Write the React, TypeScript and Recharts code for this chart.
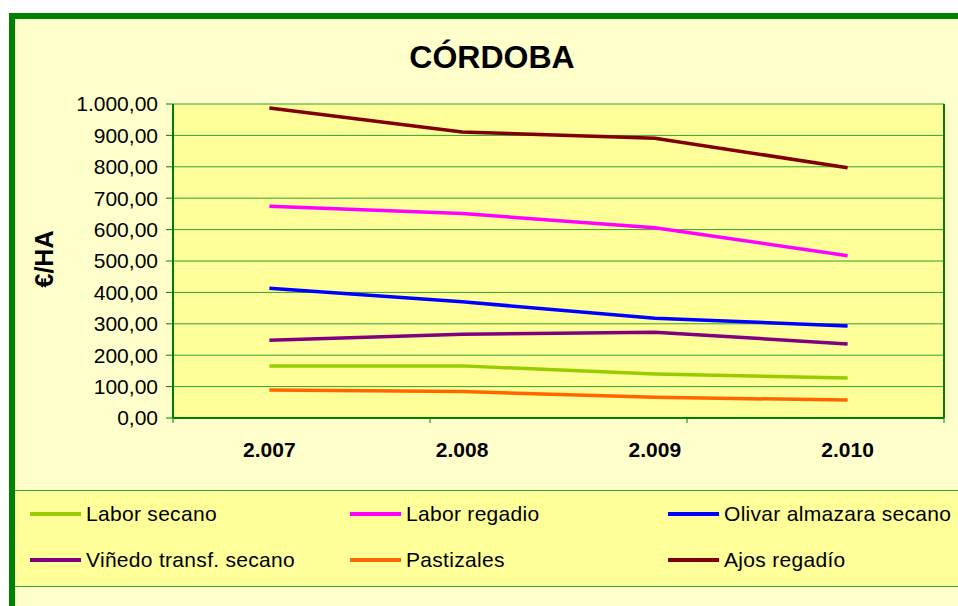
import React from 'react';
import { LineChart, Line, XAxis, YAxis, CartesianGrid } from 'recharts';

const years = ['2.007', '2.008', '2.009', '2.010'];
const laborSecano = [166, 166, 140, 127];
const laborRegadio = [674, 651, 606, 517];
const olivar = [413, 370, 318, 293];
const vinedo = [248, 267, 273, 236];
const pastizales = [89, 84, 66, 57];
const ajos = [987, 911, 891, 797];
const yTicks = [0, 100, 200, 300, 400, 500, 600, 700, 800, 900, 1000];
const edgeTicks = [0, 1, 2, 3, 4];

const SERIES = [
  { key: 'laborSecano', name: 'Labor secano', color: '#99CC00', values: laborSecano },
  { key: 'laborRegadio', name: 'Labor regadio', color: '#FF00FF', values: laborRegadio },
  { key: 'olivar', name: 'Olivar almazara secano', color: '#0000FF', values: olivar },
  { key: 'vinedo', name: 'Viñedo transf. secano', color: '#800080', values: vinedo },
  { key: 'pastizales', name: 'Pastizales', color: '#FF6600', values: pastizales },
  { key: 'ajos', name: 'Ajos regadío', color: '#800000', values: ajos },
];

const data = years.map((year, i) => {
  const row: Record<string, string | number> = { year };
  SERIES.forEach(s => { row[s.key] = s.values[i]; });
  return row;
});

const FONT = '"Liberation Sans", Arial, sans-serif';
const GREEN = '#008000';
const GRID = '#33A033';

// ids sort so the tick-mark axis sits next to the plot
const EDGE_X = 'a-edge';
const CAT_X = 'b-cat';
const TOP_X = 'c-top';

// 1000 -> "1.000,00"
const fmt = (v: number) => {
  const [int, dec] = v.toFixed(2).split('.');
  return int.replace(/\B(?=(\d{3})+(?!\d))/g, '.') + ',' + dec;
};

const App: React.FC = () => {
  return (
    <div style={{ position: 'absolute', left: 0, top: 0, width: 958, height: 606, overflow: 'hidden', background: '#fff', fontFamily: FONT }}>
      {/* outer chart frame */}
      <div style={{ position: 'absolute', left: 9, top: 13, width: 1000, height: 700, borderLeft: `6px solid ${GREEN}`, borderTop: `6px solid ${GREEN}`, background: '#FFFFCC' }} />

      <div style={{ position: 'absolute', left: 0, width: 984, top: 40, textAlign: 'center', fontSize: 32, fontWeight: 'bold', lineHeight: '34px', color: '#000' }}>
        CÓRDOBA
      </div>

      <div style={{ position: 'absolute', left: 44, top: 259, transform: 'translate(-50%, -50%) rotate(-90deg)', fontSize: 25, fontWeight: 'bold', whiteSpace: 'nowrap', color: '#000' }}>
        €/HA
      </div>

      <div style={{ position: 'absolute', left: 0, top: 0 }}>
        <LineChart width={958} height={606} data={data} margin={{ top: 104, right: 13, bottom: 137, left: 0 }}>
          <CartesianGrid xAxisId={CAT_X} yAxisId="left" vertical={false} stroke={GRID} strokeWidth={1} fill="#FFFF99" fillOpacity={1} />
          <XAxis
            xAxisId={EDGE_X}
            type="number"
            domain={[0, 4]}
            ticks={edgeTicks}
            interval={0}
            height={1}
            tickFormatter={() => ''}
            axisLine={{ stroke: GREEN, strokeWidth: 2 }}
            tickLine={{ stroke: GREEN }}
            tickSize={5}
          />
          <XAxis
            xAxisId={CAT_X}
            dataKey="year"
            scale="band"
            height={50}
            axisLine={false}
            tickLine={false}
            tickMargin={17}
            tick={{ fill: '#000', fontSize: 21, fontWeight: 'bold', fontFamily: FONT }}
          />
          <XAxis
            xAxisId={TOP_X}
            orientation="top"
            type="number"
            domain={[0, 4]}
            height={0}
            tick={false}
            tickLine={false}
            axisLine={{ stroke: GREEN, strokeWidth: 2 }}
          />
          <YAxis
            yAxisId="left"
            width={173}
            domain={[0, 1000]}
            ticks={yTicks}
            interval={0}
            tickFormatter={fmt}
            axisLine={{ stroke: GREEN, strokeWidth: 2 }}
            tickLine={{ stroke: GREEN }}
            tickSize={7}
            tickMargin={8}
            tick={{ fill: '#000', fontSize: 21, fontFamily: FONT }}
          />
          <YAxis
            yAxisId="right"
            orientation="right"
            width={1}
            domain={[0, 1000]}
            tick={false}
            tickLine={false}
            axisLine={{ stroke: GREEN, strokeWidth: 2 }}
          />
          {SERIES.map(s => (
            <Line
              key={s.key}
              xAxisId={CAT_X}
              yAxisId="left"
              type="linear"
              dataKey={s.key}
              name={s.name}
              stroke={s.color}
              strokeWidth={3.5}
              dot={false}
              activeDot={false}
              isAnimationActive={false}
            />
          ))}
        </LineChart>
      </div>

      {/* legend */}
      <div style={{ position: 'absolute', left: 15, top: 490, width: 960, height: 97, background: '#FFFF99', borderTop: `1px solid ${GRID}`, borderBottom: `1px solid ${GRID}`, display: 'grid', gridTemplateColumns: '320px 318px 320px', gridAutoRows: '46px', paddingLeft: 15, boxSizing: 'border-box' }}>
        {SERIES.map(s => (
          <div key={s.key} style={{ display: 'flex', alignItems: 'center', fontSize: 21, letterSpacing: 0.3, color: '#000', whiteSpace: 'nowrap' }}>
            <span style={{ display: 'inline-block', width: 51, height: 4, background: s.color, marginRight: 5 }} />
            {s.name}
          </div>
        ))}
      </div>
    </div>
  );
};

export default App;
